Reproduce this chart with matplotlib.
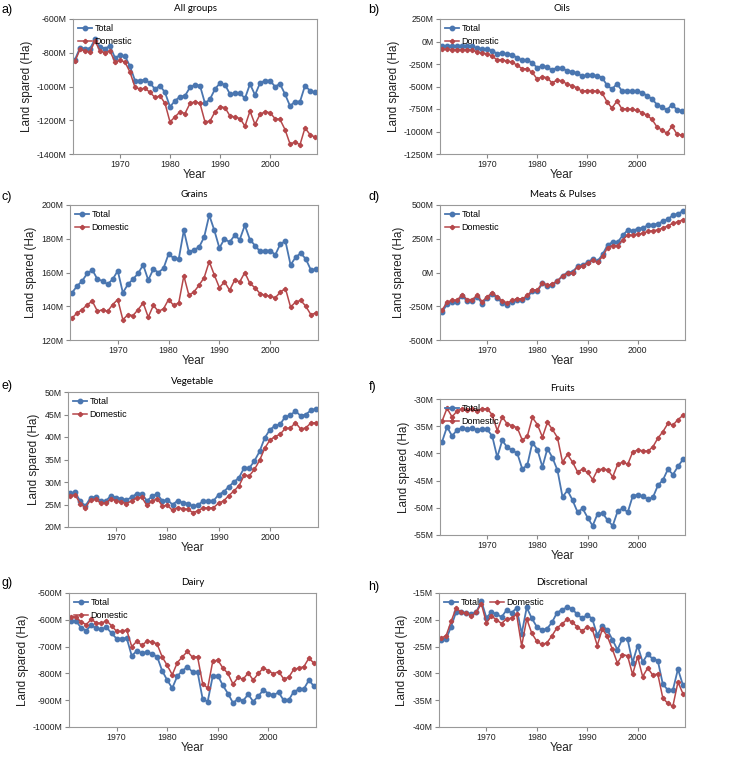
import numpy as np
import matplotlib
matplotlib.use("Agg")
import matplotlib.pyplot as plt
from matplotlib.ticker import FuncFormatter

plt.rcParams['font.family'] = ['Liberation Sans', 'DejaVu Sans']

years = np.arange(1961, 2010)

# All groups (M Ha)
all_total = [-840, -770, -775, -775, -720, -765, -775, -760, -830, -815,
             -820, -880, -965, -965, -960, -980, -1015, -995, -1035, -1120,
             -1085, -1060, -1055, -1005, -990, -995, -1100, -1075, -1015, -980,
             -990, -1045, -1040, -1040, -1070, -985, -1050, -980, -965, -965,
             -1000, -985, -1045, -1115, -1090, -1090, -995, -1025, -1035]
all_dom = [-850, -780, -790, -795, -730, -790, -800, -790, -855, -845,
           -855, -915, -1005, -1015, -1010, -1035, -1065, -1055, -1100, -1210,
           -1180, -1150, -1160, -1100, -1090, -1100, -1210, -1205, -1150, -1120,
           -1125, -1175, -1180, -1190, -1235, -1145, -1225, -1165, -1150, -1155,
           -1190, -1195, -1255, -1340, -1330, -1345, -1245, -1285, -1300]

# Oils
oil_total = [-50, -50, -50, -50, -45, -45, -50, -75, -80, -85,
             -100, -135, -130, -140, -145, -180, -210, -205, -235, -290,
             -275, -280, -320, -290, -295, -325, -335, -350, -385, -375,
             -375, -380, -400, -485, -530, -470, -550, -545, -550, -550,
             -570, -600, -640, -700, -730, -760, -700, -760, -770]
oil_dom = [-85, -85, -90, -90, -90, -90, -95, -115, -130, -135,
           -160, -205, -200, -220, -225, -265, -300, -305, -340, -415,
           -395, -400, -460, -430, -435, -475, -490, -515, -555, -545,
           -545, -555, -570, -670, -740, -660, -750, -750, -755, -765,
           -790, -820, -865, -950, -985, -1020, -940, -1030, -1040]

# Grains
grain_total = [148, 152, 155, 159.5, 161.5, 156, 155, 153, 156, 161,
               148, 153, 156, 159.5, 164.5, 155.5, 162, 160, 162.5, 171,
               168.5, 168, 185, 172, 173.5, 175, 181, 194, 185, 174.5,
               180, 178, 182, 179.5, 188, 179.5, 176, 172.5, 173, 173,
               170.5, 177, 178.5, 164.5, 169, 171.5, 168, 161.5, 162]
grain_dom = [133, 136, 138, 141, 143, 137, 138, 137, 141, 144,
             132, 135, 134.5, 138, 142, 133.5, 140.5, 137, 138.5, 144,
             140.5, 142, 158, 146.5, 148.5, 152.5, 157, 166.5, 158.5, 151,
             154.5, 149.5, 155.5, 154.5, 160, 153.5, 151, 147.5, 146.5, 146,
             145, 148.5, 150.5, 139.5, 142.5, 143.5, 140, 135, 136]

# Meats & Pulses
meat_total = [-295, -235, -215, -215, -175, -210, -210, -180, -230, -190,
              -160, -190, -225, -240, -215, -205, -205, -180, -140, -140,
              -80, -100, -90, -65, -25, 0, 5, 45, 55, 75,
              100, 85, 135, 205, 225, 225, 275, 315, 310, 325,
              330, 350, 355, 360, 380, 395, 425, 435, 455]
meat_dom = [-280, -220, -205, -205, -165, -200, -200, -170, -215, -180,
            -150, -180, -210, -225, -205, -195, -195, -170, -130, -130,
            -75, -95, -85, -60, -25, -5, 0, 40, 50, 70,
            90, 75, 120, 185, 200, 200, 240, 280, 275, 285,
            290, 305, 310, 315, 330, 345, 365, 375, 390]

# Vegetable
veg_total = [27.5, 27.7, 25.7, 24.7, 26.5, 26.7, 25.8, 25.8, 27.0, 26.5,
             26.3, 26.0, 26.6, 27.4, 27.4, 25.8, 26.8, 27.4, 25.8, 26.0,
             25.0, 25.8, 25.4, 25.2, 24.6, 24.9, 25.8, 25.8, 25.8, 27.2,
             27.8, 29.0, 30.0, 31.0, 33.2, 33.1, 34.7, 36.8, 39.8, 41.6,
             42.5, 42.8, 44.5, 44.8, 45.8, 44.7, 45.0, 45.9, 46.3]
veg_dom = [27.0, 27.1, 25.2, 24.3, 26.0, 26.2, 25.3, 25.3, 26.3, 25.8,
           25.6, 25.2, 25.8, 26.5, 26.6, 24.8, 25.7, 26.3, 24.7, 24.8,
           23.7, 24.3, 24.1, 23.9, 23.2, 23.6, 24.3, 24.2, 24.3, 25.3,
           25.8, 27.0, 28.0, 29.2, 31.5, 31.4, 32.8, 34.8, 37.5, 39.3,
           40.1, 40.6, 41.9, 42.0, 43.2, 41.8, 42.0, 43.1, 43.2]

# Fruits
fruit_total = [-37.9, -35.1, -36.8, -35.7, -35.3, -35.6, -35.3, -35.7, -35.5, -35.6,
               -36.8, -40.7, -37.6, -38.9, -39.4, -40.0, -42.9, -42.1, -38.0, -39.3,
               -42.5, -39.1, -40.8, -43.1, -48.0, -46.8, -48.6, -50.8, -50.1, -51.8,
               -53.3, -51.1, -51.0, -52.3, -53.3, -50.6, -50.1, -50.8, -47.8, -47.6,
               -47.9, -48.4, -48.1, -45.9, -44.9, -42.9, -43.9, -42.4, -41.1]
fruit_dom = [-34.1, -31.7, -33.3, -32.2, -31.8, -32.0, -31.8, -32.2, -31.8, -31.8,
             -32.9, -35.8, -33.3, -34.6, -34.9, -35.3, -37.6, -36.8, -33.4, -34.7,
             -37.0, -34.3, -35.6, -37.1, -41.6, -40.2, -41.6, -43.4, -42.9, -43.5,
             -44.8, -43.0, -42.9, -43.0, -44.3, -42.0, -41.6, -42.0, -39.7, -39.4,
             -39.5, -39.6, -38.8, -37.2, -36.0, -34.5, -34.8, -33.8, -33.0]

# Dairy
dairy_total = [-605, -605, -630, -640, -620, -632, -635, -628, -650, -670,
               -670, -668, -735, -715, -725, -720, -728, -737, -790, -825,
               -855, -810, -790, -775, -795, -795, -895, -905, -810, -808,
               -845, -875, -910, -895, -902, -878, -905, -885, -862, -875,
               -882, -870, -900, -900, -868, -860, -858, -825, -848]
dairy_dom = [-588, -590, -608, -618, -598, -612, -613, -603, -622, -643,
             -643, -638, -700, -680, -695, -680, -682, -690, -738, -770,
             -805, -760, -738, -718, -740, -738, -838, -855, -755, -750,
             -780, -800, -840, -815, -822, -798, -825, -800, -780, -790,
             -802, -793, -820, -815, -785, -780, -775, -743, -762]

# Discretional
disc_total = [-23.8, -23.6, -21.3, -18.5, -18.5, -18.8, -18.9, -18.6, -16.5, -19.6,
              -18.6, -18.9, -19.5, -18.2, -18.7, -17.8, -22.6, -17.7, -19.7, -21.3,
              -21.9, -21.7, -20.5, -18.7, -18.1, -17.7, -17.9, -19.0, -19.7, -19.1,
              -19.8, -22.9, -21.1, -21.9, -23.7, -25.6, -23.5, -23.6, -28.0, -24.8,
              -27.9, -26.4, -27.3, -27.6, -32.0, -33.1, -33.1, -29.2, -32.2]
disc_dom = [-23.4, -23.0, -20.3, -17.8, -18.6, -18.7, -19.3, -18.6, -17.0, -20.6,
            -19.3, -20.0, -20.7, -19.8, -19.7, -19.0, -24.9, -19.8, -22.5, -24.0,
            -24.6, -24.3, -23.0, -21.5, -20.8, -19.9, -20.4, -21.3, -22.1, -21.3,
            -21.7, -24.8, -21.7, -23.1, -25.5, -28.1, -26.5, -26.7, -30.2, -26.9,
            -30.6, -29.0, -30.3, -30.1, -34.6, -35.6, -36.1, -31.6, -33.8]

titles = ['All groups', 'Oils', 'Grains', 'Meats & Pulses',
          'Vegetable', 'Fruits', 'Dairy', 'Discretional']
letters = ['a)', 'b)', 'c)', 'd)', 'e)', 'f)', 'g)', 'h)']
totals = [all_total, oil_total, grain_total, meat_total,
          veg_total, fruit_total, dairy_total, disc_total]
domestics = [all_dom, oil_dom, grain_dom, meat_dom,
             veg_dom, fruit_dom, dairy_dom, disc_dom]
yticks = [[-1400, -1200, -1000, -800, -600],
          [-1250, -1000, -750, -500, -250, 0, 250],
          [120, 140, 160, 180, 200],
          [-500, -250, 0, 250, 500],
          [20, 25, 30, 35, 40, 45, 50],
          [-55, -50, -45, -40, -35, -30],
          [-1000, -900, -800, -700, -600, -500],
          [-40, -35, -30, -25, -20, -15]]

# axes boxes in pixels: left, right, top, bottom
W, H = 734, 758
boxes = [(73, 317, 19, 154), (440, 684, 19, 154),
         (70, 318, 205, 340), (440, 685, 205, 340),
         (68, 318, 392, 527), (440, 685, 399, 535),
         (69, 316, 593, 727), (439, 685, 593, 727)]
letter_pos = [(0, 10), (367, 10), (0, 197), (367, 197),
              (0, 386), (367, 387), (0, 583), (367, 587)]

blue = '#4a76b0'
red = '#b5474a'

fig = plt.figure(figsize=(W / 100, H / 100), dpi=100)

for i in range(8):
    l, r, t, b = boxes[i]
    ax = fig.add_axes([l / W, 1 - b / H, (r - l) / W, (b - t) / H])
    ax.plot(years, totals[i], '-o', color=blue, markersize=3.2, linewidth=1.3, label='Total')
    ax.plot(years, domestics[i], '-P', color=red, markersize=2.8, linewidth=1.1, label='Domestic')
    ax.set_xlim(1960.6, 2009.4)
    ax.set_ylim(yticks[i][0], yticks[i][-1])
    ax.set_yticks(yticks[i])
    ax.set_xticks([1970, 1980, 1990, 2000])
    ax.yaxis.set_major_formatter(FuncFormatter(lambda v, p: '%dM' % v))
    ax.tick_params(labelsize=6.3, length=3, color='#888888', pad=1.5, labelcolor='#222222')
    for s in ax.spines.values():
        s.set_color('#999999')
    ax.set_xlabel('Year', fontsize=8.5, labelpad=0, color='#222222')
    ax.set_ylabel('Land spared (Ha)', fontsize=8.5, labelpad=3, color='#222222')
    ax.set_title(titles[i], fontsize=7, pad=6, family=['Lato', 'DejaVu Sans'])
    if i == 7:
        ax.legend(loc='upper left', ncol=2, frameon=False, fontsize=6.5,
                  handlelength=1.5, handletextpad=0.3, columnspacing=1.2,
                  borderaxespad=0.3, borderpad=0.3)
    else:
        ax.legend(loc='upper left', frameon=False, fontsize=6.5,
                  handlelength=1.5, handletextpad=0.3, labelspacing=0.45,
                  borderaxespad=0.3, borderpad=0.3)
    lx, ly = letter_pos[i]
    fig.text(lx / W + 0.002, 1 - ly / H, letters[i], fontsize=9, va='center', ha='left')

fig.savefig('out.png', dpi=100)
